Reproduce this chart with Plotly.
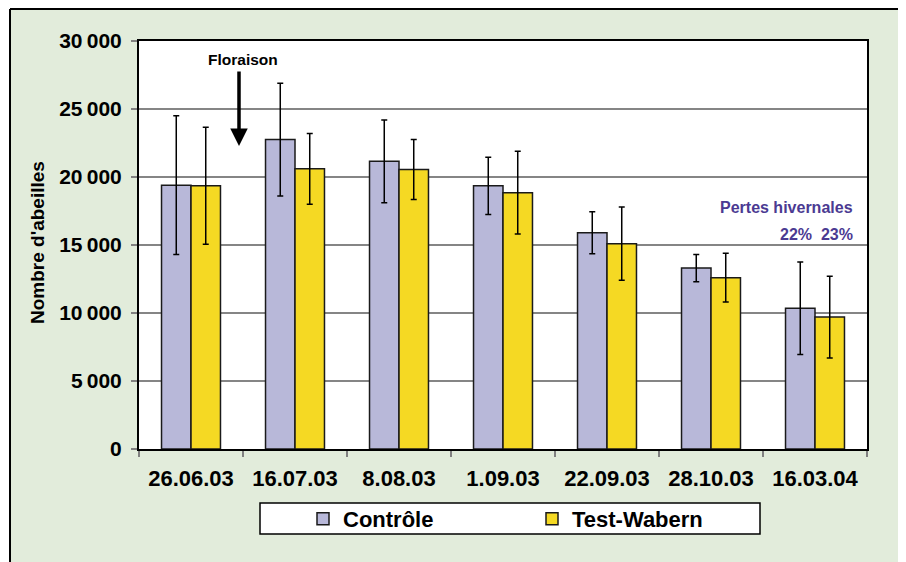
import plotly.graph_objects as go

dates = ["26.06.03", "16.07.03", "8.08.03", "1.09.03", "22.09.03", "28.10.03", "16.03.04"]
controle = [19400, 22750, 21150, 19350, 15900, 13300, 10350]
controle_err = [5100, 4150, 3050, 2100, 1550, 1000, 3400]
test_wabern = [19350, 20600, 20550, 18850, 15100, 12600, 9700]
test_wabern_err = [4300, 2600, 2200, 3050, 2700, 1800, 3000]
y_ticks = [0, 5000, 10000, 15000, 20000, 25000, 30000]

FONT = "Arial, 'Liberation Sans', sans-serif"
OFF = 8  # browser body margin
PAGE_W, PAGE_H = 906, 562
W, H = PAGE_W - OFF, PAGE_H - OFF
# plot area in page pixels: x 139..867, y 41..449
L, T = 139 - OFF, 41 - OFF
R = W - (867 - OFF)
B = H - (449 - OFF)
pw, ph = W - L - R, H - T - B


def px_x(p):  # page pixel -> paper
    return (p - OFF - L) / pw


def px_y(p):
    return (H - B - (p - OFF)) / ph


fig = go.Figure()
fig.add_trace(go.Bar(
    name="Contrôle", x=dates, y=controle,
    marker=dict(color="#B8B8D9", line=dict(color="#1a1a1a", width=1.5)),
    error_y=dict(type="data", array=controle_err, color="#000000", thickness=1.5, width=3),
))
fig.add_trace(go.Bar(
    name="Test-Wabern", x=dates, y=test_wabern,
    marker=dict(color="#F5D923", line=dict(color="#1a1a1a", width=1.5)),
    error_y=dict(type="data", array=test_wabern_err, color="#000000", thickness=1.5, width=3),
))

fig.update_layout(
    width=W, height=H,
    margin=dict(l=L, r=R, t=T, b=B, autoexpand=False),
    paper_bgcolor="#E2ECDB",
    plot_bgcolor="#FFFFFF",
    barmode="group", bargap=0.433, bargroupgap=0,
    separators=",\u2009",
    font=dict(family=FONT, color="#000000"),
    showlegend=True,
    legend=dict(
        orientation="h", x=px_x(303), y=px_y(498), xanchor="left", yanchor="top",
        bgcolor="rgba(0,0,0,0)", borderwidth=0,
        font=dict(family=FONT, size=22, weight="bold", color="#000000"),
        entrywidth=184, entrywidthmode="pixels",
    ),
)

fig.update_xaxes(
    type="category", showgrid=False,
    showline=True, linecolor="#000000", linewidth=2, mirror=True,
    ticks="outside", tickson="boundaries", ticklen=6, tickcolor="#808080", tickwidth=1.5,
    tickfont=dict(family=FONT, size=22, weight="bold", color="#000000"),
    ticklabelstandoff=9,
)
fig.update_yaxes(
    range=[0, 30000], tickvals=y_ticks, tickformat=",d",
    showgrid=True, gridcolor="#858585", gridwidth=1.5,
    zeroline=False,
    showline=True, linecolor="#000000", linewidth=2, mirror=True,
    ticks="outside", ticklen=6, tickcolor="#808080", tickwidth=1.5,
    tickfont=dict(family=FONT, size=21, weight="bold", color="#000000"),
    ticklabelstandoff=5,
)

shapes = [
    # white outside the frame
    dict(type="rect", xref="paper", yref="paper", x0=px_x(-5), x1=px_x(10), y0=px_y(600), y1=px_y(-5),
         fillcolor="#FFFFFF", line=dict(width=0), layer="above"),
    dict(type="rect", xref="paper", yref="paper", x0=px_x(900), x1=px_x(912), y0=px_y(600), y1=px_y(-5),
         fillcolor="#FFFFFF", line=dict(width=0), layer="above"),
    # frame
    dict(type="line", xref="paper", yref="paper", x0=px_x(10), x1=px_x(10), y0=px_y(600), y1=px_y(9),
         line=dict(color="#000000", width=2)),
    dict(type="line", xref="paper", yref="paper", x0=px_x(900), x1=px_x(900), y0=px_y(600), y1=px_y(9),
         line=dict(color="#000000", width=2)),
    dict(type="line", xref="paper", yref="paper", x0=px_x(10), x1=px_x(900), y0=px_y(9), y1=px_y(9),
         line=dict(color="#000000", width=2)),
    # legend box
    dict(type="rect", xref="paper", yref="paper", x0=px_x(260), x1=px_x(760), y0=px_y(534), y1=px_y(503),
         fillcolor="#FFFFFF", line=dict(color="#000000", width=1.5), layer="below"),
]
fig.update_layout(shapes=shapes)

annotations = [
    dict(text="Nombre d'abeilles", xref="paper", yref="paper", x=px_x(37), y=px_y(243),
         textangle=-90, showarrow=False, xanchor="center", yanchor="middle",
         font=dict(family=FONT, size=19, weight="bold", color="#000000")),
    dict(text="Floraison", xref="paper", yref="paper", x=px_x(243), y=px_y(60),
         showarrow=False, xanchor="center", yanchor="middle",
         font=dict(family=FONT, size=15.5, weight="bold", color="#000000")),
    dict(text="", xref="paper", yref="paper", x=px_x(239), y=px_y(146),
         axref="pixel", ayref="pixel", ax=0, ay=-76,
         showarrow=True, arrowhead=2, arrowsize=1.0, arrowwidth=3.5, arrowcolor="#000000", standoff=0),
    dict(text="Pertes hivernales", xref="paper", yref="paper", x=px_x(786), y=px_y(207),
         showarrow=False, xanchor="center", yanchor="middle",
         font=dict(family=FONT, size=16, weight="bold", color="#4B3A92")),
    dict(text="22%  23%", xref="paper", yref="paper", x=px_x(855), y=px_y(234),
         showarrow=False, xanchor="right", yanchor="middle",
         font=dict(family=FONT, size=16, weight="bold", color="#4B3A92")),
]
fig.update_layout(annotations=annotations)

fig.write_html("out.html")
